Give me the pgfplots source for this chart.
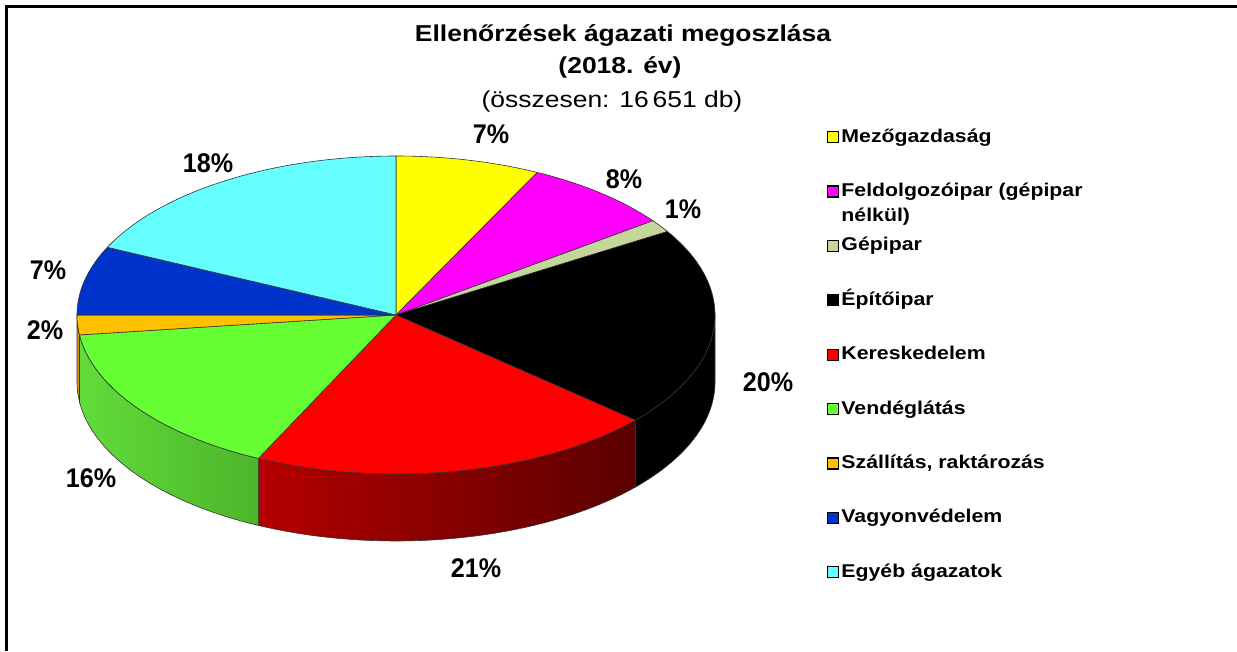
\documentclass[border=0pt]{standalone}
\usepackage{pgfplots}
\pgfplotsset{compat=1.18}
\usepackage{pgfplotstable}
\usepackage{fontspec}
\setmainfont{Liberation Sans}[FakeStretch=1.15]
\newfontfamily\labfont{Liberation Sans}[FakeStretch=0.93]

\definecolor{s0}{HTML}{FFFF00}
\definecolor{s1}{HTML}{FF00FF}
\definecolor{s2}{HTML}{C4D79B}
\definecolor{s3}{HTML}{000000}
\definecolor{s4}{HTML}{FF0000}
\definecolor{s5}{HTML}{66FF33}
\definecolor{s6}{HTML}{FFC000}
\definecolor{s7}{HTML}{0033CC}
\definecolor{s8}{HTML}{66FFFF}
\definecolor{wl3}{HTML}{000000}\definecolor{wr3}{HTML}{000000}
\definecolor{wl4}{HTML}{B40000}\definecolor{wr4}{HTML}{5A0000}
\definecolor{wl5}{HTML}{62DC3A}\definecolor{wr5}{HTML}{4DB52A}
\definecolor{wl6}{HTML}{D99A00}\definecolor{wr6}{HTML}{C08400}

% share of each sector (percent)
\pgfplotstableread{
sector val
Mezogazdasag 7.3
Feldolgozoipar 7.6
Gepipar 1.3
Epitoipar 20.3
Kereskedelem 20.6
Vendeglatas 15.9
Szallitas 2.0
Vagyonvedelem 7.0
Egyeb 18.0
}\piedata

\def\cum{90}%
\pgfplotsforeachungrouped \i in {0,...,8}{%
  \pgfplotstablegetelem{\i}{val}\of\piedata
  \pgfmathsetmacro\endang{\cum-3.6*\pgfplotsretval}%
  \expandafter\xdef\csname aS\i\endcsname{\cum}%
  \expandafter\xdef\csname aE\i\endcsname{\endang}%
  \xdef\cum{\endang}%
}%

\begin{document}
\begin{tikzpicture}
\begin{axis}[
  scale only axis, width=1237pt, height=651pt,
  xmin=0, xmax=1237, ymin=0, ymax=651,
  hide axis, clip=true,
  legend image code/.code={\draw[#1, draw=black, line width=1.2pt] (0pt,-5.5pt) rectangle (11pt,5.5pt);},
  legend cell align=left,
  legend style={draw=none, fill=none, inner sep=0pt,
    at={(0.6686,0.8034)}, anchor=north west,
    row sep=36.4pt, column sep=2pt,
    font=\fontsize{18.5}{25}\selectfont\bfseries,
    nodes={inner sep=0pt, text height=14pt, text depth=4pt}},
]
% background and frame
\addplot[forget plot, fill=white, draw=none] coordinates {(0,0) (1237,0) (1237,651) (0,651)} -- cycle;
\addplot[forget plot, draw=black, line width=3pt] coordinates {(6.5,0) (6.5,644.5) (1237,644.5)};

% side walls
\pgfplotsforeachungrouped \i in {3,4,5,6}{%
  \pgfmathsetmacro\wa{min(\csname aS\i\endcsname,0)}%
  \pgfmathsetmacro\wb{max(\csname aE\i\endcsname,-180)}%
  \edef\doplot{\noexpand\addplot[forget plot, left color=wl\i, right color=wr\i, draw=black!80, line width=0.6pt, domain=0:2.04, samples=103, variable=\noexpand\t]
   ({396+319*cos(\noexpand\t<1.01 ? (\wa)+((\wb)-(\wa))*\noexpand\t : (\noexpand\t<2.03 ? (\wb)+((\wa)-(\wb))*(\noexpand\t-1.02) : (\wa)))},
    {336+159*sin(\noexpand\t<1.01 ? (\wa)+((\wb)-(\wa))*\noexpand\t : (\noexpand\t<2.03 ? (\wb)+((\wa)-(\wb))*(\noexpand\t-1.02) : (\wa)))-(\noexpand\t<1.01 ? 0 : (\noexpand\t<2.03 ? 67 : 0))});}%
  \doplot
}

% top faces
\pgfplotsforeachungrouped \i in {0,...,8}{%
  \edef\a{\csname aS\i\endcsname}\edef\b{\csname aE\i\endcsname}%
  \edef\doplot{\noexpand\addplot[forget plot, fill=s\i, draw=black!80, line width=0.6pt, domain=-0.02:1.02, samples=53, variable=\noexpand\t]
   ({396+319*(\noexpand\t<(-0.01) ? 0 : (\noexpand\t>1.01 ? 0 : 1))*cos((\a)+((\b)-(\a))*\noexpand\t)},
    {336+159*(\noexpand\t<(-0.01) ? 0 : (\noexpand\t>1.01 ? 0 : 1))*sin((\a)+((\b)-(\a))*\noexpand\t)});}%
  \doplot
}

\addlegendimage{fill=s0}\addlegendentry{Mezőgazdaság}
\addlegendimage{fill=s1}\addlegendentry{\smash{\begin{tabular}[t]{@{}l@{}}Feldolgozóipar (gépipar\\nélkül)\end{tabular}}}
\addlegendimage{fill=s2}\addlegendentry{Gépipar}
\addlegendimage{fill=s3}\addlegendentry{Építőipar}
\addlegendimage{fill=s4}\addlegendentry{Kereskedelem}
\addlegendimage{fill=s5}\addlegendentry{Vendéglátás}
\addlegendimage{fill=s6}\addlegendentry{Szállítás, raktározás}
\addlegendimage{fill=s7}\addlegendentry{Vagyonvédelem}
\addlegendimage{fill=s8}\addlegendentry{Egyéb ágazatok}

% title
\node[anchor=base, font=\fontsize{23}{27}\selectfont\bfseries] at (axis cs:623,609) {Ellenőrzések ágazati megoszlása};
\node[anchor=base, font=\fontsize{23}{27}\selectfont\bfseries] at (axis cs:620,577) {(2018. év)};
\node[anchor=base, font=\fontsize{23}{27}\selectfont] at (axis cs:612,543) {(összesen: 16\,651 db)};

% percentage labels
\tikzset{pl/.style={inner sep=0pt, font=\labfont\fontsize{27}{30}\selectfont\bfseries}}
\node[pl] at (axis cs:491,517) {7\%};
\node[pl] at (axis cs:624,472) {8\%};
\node[pl] at (axis cs:683,442) {1\%};
\node[pl] at (axis cs:768,269) {20\%};
\node[pl] at (axis cs:476,83) {21\%};
\node[pl] at (axis cs:91,173) {16\%};
\node[pl] at (axis cs:45,321) {2\%};
\node[pl] at (axis cs:48,381) {7\%};
\node[pl] at (axis cs:208,488) {18\%};
\end{axis}
\end{tikzpicture}
\end{document}
